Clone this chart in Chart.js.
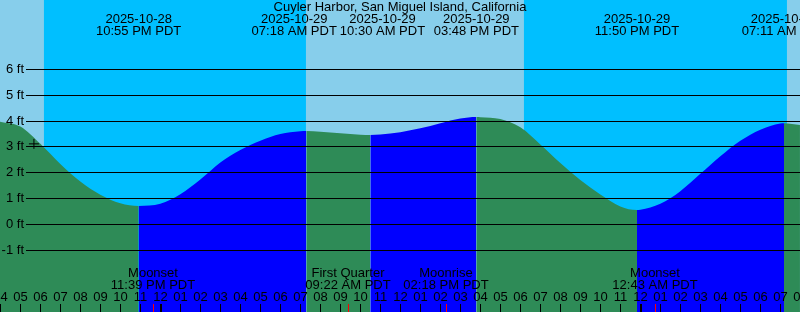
<!DOCTYPE html>
<html>
<head>
<meta charset="utf-8">
<style>
  html, body { margin: 0; padding: 0; background: #fff; }
  canvas { display: block; }
</style>
<script src="https://cdn.jsdelivr.net/npm/chart.js@4.4.0/dist/chart.umd.min.js"></script>
</head>
<body>
<canvas id="tides" width="800" height="312"></canvas>
<script>
// all times are hours counted from 2025-10-29 00:00 PDT
const title = 'Cuyler Harbor, San Miguel Island, California';

// tide curve (hour, feet)
const curveHours = [-8.02, -7, -6, -5, -4, -3, -2, -1.083, 0, 1, 2, 3, 4, 5, 6, 7, 7.30,
  8, 9, 10, 10.50, 11, 12, 13, 14, 15, 15.80, 16, 17, 18, 19, 20, 21, 22, 23, 23.833,
  24, 25, 26, 27, 28, 29, 30, 31, 31.183, 31.98];
const curveFeet = [3.96, 3.77, 3.10, 2.32, 1.64, 1.13, 0.80, 0.70, 0.78, 1.15, 1.72, 2.38, 2.86, 3.22, 3.48, 3.59, 3.60,
  3.57, 3.51, 3.45, 3.44, 3.46, 3.55, 3.70, 3.90, 4.08, 4.14, 4.13, 4.06, 3.74, 3.08, 2.36, 1.70, 1.14, 0.68, 0.54,
  0.55, 0.78, 1.27, 1.94, 2.62, 3.22, 3.65, 3.89, 3.90, 3.83];

// high / low tide events (top labels)
const eventHours = [-1.083, 7.30, 10.50, 15.80, 23.833, 31.183];
const eventDates = ['2025-10-28', '2025-10-29', '2025-10-29', '2025-10-29', '2025-10-29', '2025-10-30'];
const eventTimes = ['10:55 PM PDT', '07:18 AM PDT', '10:30 AM PDT', '03:48 PM PDT', '11:50 PM PDT', '07:11 AM PDT'];

// night spans (sunset -> sunrise)
const nightStart = [-5.82, 18.18];
const nightEnd = [7.28, 31.33];

// moon events (bottom labels)
const moonHours = [-0.35, 9.367, 14.30, 24.717];
const moonNames = ['Moonset', 'First Quarter', 'Moonrise', 'Moonset'];
const moonTimes = ['11:39 PM PDT', '09:22 AM PDT', '02:18 PM PDT', '12:43 AM PDT'];

// axes
const feetTicks = [-1, 0, 1, 2, 3, 4, 5, 6];
const hourTicks = [];
for (let h = -8; h <= 32; h++) hourTicks.push(h);
const hourLabels = ['04', '05', '06', '07', '08', '09', '10', '11', '12', '01', '02', '03', '04', '05', '06', '07', '08',
  '09', '10', '11', '12', '01', '02', '03', '04', '05', '06', '07', '08', '09', '10', '11', '12', '01', '02', '03', '04',
  '05', '06', '07', '08'];
const midnights = [0, 24];

// "now" marker
const nowHour = -6.32;
const nowFeet = 3.10;

const dayColor = '#87CEEB';
const nightColor = '#00BFFF';
const ebbColor = '#2E8B57';
const floodColor = '#0000FF';
const font = '13px "Liberation Sans", Arial, sans-serif';

const tidePlugin = {
  id: 'tideDecor',
  beforeDatasetsDraw(chart) {
    const { ctx, chartArea: a, scales: { x } } = chart;
    ctx.save();
    ctx.fillStyle = dayColor;
    ctx.fillRect(a.left, a.top, a.width, a.height);
    ctx.fillStyle = nightColor;
    nightStart.forEach((s, i) => {
      const x0 = x.getPixelForValue(s);
      const x1 = x.getPixelForValue(nightEnd[i]);
      ctx.fillRect(x0, a.top, x1 - x0, a.height);
    });
    ctx.restore();
  },
  afterDatasetsDraw(chart) {
    const { ctx, chartArea: a, scales: { x, y } } = chart;
    ctx.save();
    ctx.font = font;
    ctx.fillStyle = '#000';
    ctx.textBaseline = 'middle';

    // horizontal foot lines with labels
    ctx.strokeStyle = '#000';
    ctx.lineWidth = 1;
    ctx.textAlign = 'right';
    feetTicks.forEach(f => {
      const py = Math.round(y.getPixelForValue(f)) + 0.5;
      ctx.beginPath();
      ctx.moveTo(26, py);
      ctx.lineTo(a.right, py);
      ctx.stroke();
      ctx.fillText(f + ' ft', 24, py);
    });

    // hour ticks and labels
    ctx.textAlign = 'center';
    hourTicks.forEach((h, i) => {
      const px = Math.round(x.getPixelForValue(h));
      const w = midnights.includes(h) ? 2 : 1;
      ctx.fillRect(px, 304, w, a.bottom - 304);
      ctx.fillText(hourLabels[i], px + 0.5, 297);
    });

    // moon events
    moonHours.forEach((h, i) => {
      const px = Math.round(x.getPixelForValue(h));
      ctx.fillStyle = '#FF0000';
      ctx.fillRect(px, 304, 1, a.bottom - 304);
      ctx.fillStyle = '#000';
      ctx.fillText(moonNames[i], px, 273);
      ctx.fillText(moonTimes[i], px, 285);
    });

    // tide event labels, pushed apart where they collide
    const labels = eventHours.map((h, i) => ({
      x: x.getPixelForValue(h),
      w: Math.max(ctx.measureText(eventDates[i]).width, ctx.measureText(eventTimes[i]).width),
      i
    }));
    for (let k = 1; k < labels.length; k++) {
      const p = labels[k - 1], n = labels[k];
      const overlap = (p.x + p.w / 2 + 3) - (n.x - n.w / 2);
      if (overlap > 0) {
        p.x -= overlap / 2;
        n.x += overlap / 2;
      }
    }
    labels.forEach(l => {
      ctx.fillText(eventDates[l.i], l.x, 19);
      ctx.fillText(eventTimes[l.i], l.x, 31);
    });

    // title
    ctx.fillText(title, (a.left + a.right) / 2, 7);
    ctx.restore();
  }
};

const curve = curveHours.map((h, i) => ({ x: h, y: curveFeet[i] }));

new Chart(document.getElementById('tides'), {
  type: 'line',
  data: {
    datasets: [{
      label: 'Tide',
      data: curve,
      order: 1,
      fill: 'start',
      backgroundColor: ebbColor,
      borderColor: 'rgba(0,0,0,0)',
      borderWidth: 0,
      pointRadius: 0,
      cubicInterpolationMode: 'monotone',
      segment: {
        backgroundColor: c => c.p1.parsed.y > c.p0.parsed.y ? floodColor : ebbColor
      }
    }, {
      label: 'Now',
      data: [{ x: nowHour, y: nowFeet }],
      order: 0,
      showLine: false,
      pointStyle: 'cross',
      pointRadius: 5,
      borderColor: '#000',
      borderWidth: 1
    }]
  },
  options: {
    responsive: false,
    animation: false,
    layout: { padding: 0, autoPadding: false },
    plugins: { legend: { display: false }, tooltip: { enabled: false } },
    scales: {
      x: { type: 'linear', min: -8.0167, max: 31.983, display: false },
      y: { min: -3.404, max: 8.665, display: false }
    }
  },
  plugins: [tidePlugin]
});
</script>
</body>
</html>
